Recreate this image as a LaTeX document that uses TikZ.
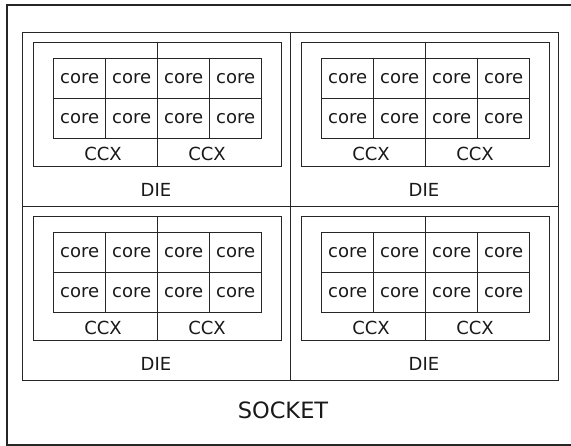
\documentclass[tikz,border=0pt]{standalone}
\usepackage{fontspec}
\setmainfont{DejaVu Sans}
\begin{document}
\begin{tikzpicture}[x=1pt,y=-1pt,
  every node/.style={font=\fontsize{18}{21}\selectfont, text=black!90},
  frame/.style={draw=black!85, line width=1.2pt},
  diebox/.style={frame, anchor=north west, inner sep=0pt,
    minimum width=268pt, minimum height=174pt},
  ccxbox/.style={frame, anchor=north west, inner sep=0pt,
    minimum width=124pt, minimum height=124pt},
  corebox/.style={frame, anchor=north west, inner sep=0pt,
    minimum width=52pt, minimum height=40pt},
  caption/.style={inner sep=0pt},
]
\useasboundingbox (0,0) rectangle (571,446);
\clip (0,0) rectangle (571,446);

% socket outline (runs past the right and bottom edges)
\draw[frame, line width=1.6pt] (7,5) rectangle (590,445);

% four dies, each with two CCX blocks of four cores
\foreach \X/\Y/\d in {22/32/a, 290/32/b, 22/206/c, 290/206/d} {
  \node[diebox] (die\d) at (\X,\Y) {};
  \node[ccxbox] (ccx\d L) at (\X+11,\Y+10) {};
  \node[ccxbox] (ccx\d R) at (\X+135,\Y+10) {};
  \foreach \c in {0,1,2,3} {
    \foreach \r in {0,1} {
      \node[corebox] (core\d\c\r) at (\X+31+52*\c,\Y+26+40*\r) {core};
    }
  }
  \node[caption] (ccxlab\d L) at (\X+81,\Y+122) {CCX};
  \node[caption] (ccxlab\d R) at (\X+185,\Y+122) {CCX};
  \node[caption] (dielab\d) at (\X+134,\Y+158) {DIE};
}

\node[caption, font=\fontsize{22.5}{27}\selectfont] (socketlab) at (283,410) {SOCKET};
\end{tikzpicture}
\end{document}
